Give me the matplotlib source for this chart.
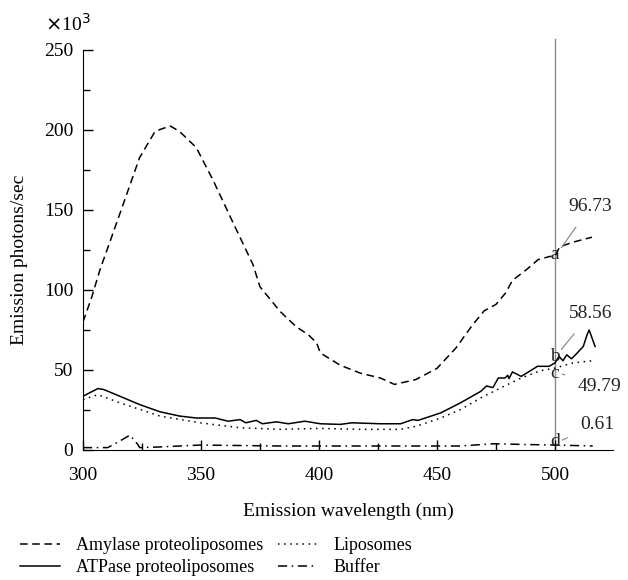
import matplotlib
matplotlib.use("Agg")
import matplotlib.pyplot as plt
from matplotlib.ticker import MultipleLocator

plt.rcParams['font.family'] = ['Liberation Serif', 'DejaVu Serif']

# Amylase proteoliposomes (dashed), x10^3 photons/sec
amy_x = [300, 303.7, 307, 315.7, 324, 330.5, 333, 337, 341, 348, 355, 363.6, 372, 375,
         383.6, 390.4, 395.5, 399, 400.6, 409, 417.6, 426, 432, 441, 450, 458, 465,
         470, 475, 479, 482, 487.9, 492.9, 497.9, 500, 502, 507.9, 515.7]
amy_y = [80, 95.5, 111.8, 148, 182.8, 199, 200.5, 202.5, 199, 189, 169, 142, 116, 102,
         86.5, 77, 72, 67, 60.6, 53, 48, 45, 41, 44, 51, 63.7, 78,
         87, 91, 98, 106, 112.7, 119, 121, 121, 127, 130, 133]

# ATPase proteoliposomes (solid)
atp_x = [300, 306.3, 308.8, 315.6, 324, 332.6, 341, 348, 356, 361.5, 366.6, 369, 373.4,
         376, 382, 387, 394, 400.6, 409, 414, 426, 434.6, 439.7, 442, 451.6, 460, 468.6,
         471, 473.7, 476, 478.8, 480, 480.5, 482, 485.7, 489, 492.6, 497.5, 500, 501.7,
         503.4, 505, 507, 509.4, 512, 513.6, 514.5, 517]
atp_y = [33.6, 38.4, 37.8, 33.6, 28.4, 23.9, 21.2, 20, 20, 18, 19, 17, 18.5,
         16.4, 17.6, 16.4, 18, 16.4, 16, 17, 16.4, 16.4, 19, 18.5, 23.2, 29.5, 36.7,
         40, 39, 45, 45, 46.7, 44.6, 48.8, 46, 49, 52.3, 52.3, 54.4, 58.5,
         55.8, 59.5, 57, 60.6, 64.7, 72, 75, 64.7]

# Liposomes (dotted)
lip_x = [300, 306.3, 315.6, 332.6, 349.6, 366.6, 383.6, 400.6, 417.6, 434.6, 441.4,
         451.6, 460, 468.6, 477, 485.7, 494, 500, 507.6, 516]
lip_y = [31.5, 34.6, 29.5, 21.2, 17, 13.9, 12.9, 13.5, 12.9, 12.9, 14.9,
         20, 25.3, 32.6, 38.8, 45, 49.6, 51.2, 54.4, 55.8]

# Buffer (dash-dot)
buf_x = [300, 310.5, 315.6, 319.9, 323.2, 324, 332.6, 349.6, 383.6, 434.6, 460,
         473.7, 485.7, 500, 516]
buf_y = [1.5, 1.5, 5.6, 9.3, 3.5, 1.5, 1.9, 3.1, 2.5, 2.5, 2.5,
         3.9, 3.5, 3.1, 2.5]

# readout at 500 nm
mark_letters = ['a', 'b', 'c', 'd']
mark_y = [122, 58.5, 48, 5.5]
mark_values = ['96.73', '58.56', '49.79', '0.61']
value_pos = [(515, 152), (515, 85), (519, 39.5), (518, 16)]

fig = plt.figure(figsize=(6.28, 5.80), dpi=100)
ax = fig.add_axes([83 / 628, 1 - 450 / 580, 530 / 628, 400 / 580])

ax.plot(amy_x, amy_y, color='black', lw=1.1, linestyle=(0, (5, 3)),
        label='Amylase proteoliposomes')
ax.plot(atp_x, atp_y, color='black', lw=1.1, label='ATPase proteoliposomes')
ax.plot(lip_x, lip_y, color='black', lw=1.1, linestyle=(0, (1, 3)), label='Liposomes')
ax.plot(buf_x, buf_y, color='black', lw=1.1, linestyle=(0, (6, 3, 1, 3)), label='Buffer')

ax.plot([500, 500], [0, 257], color='#8c8c8c', lw=1, clip_on=False, zorder=1)

for letter, yv, val, (tx, ty) in zip(mark_letters, mark_y, mark_values, value_pos):
    ax.text(500, yv, letter, ha='center', va='center', fontsize=14, color='#222222')
    ax.annotate(val, xy=(502, yv + (3 if letter in 'ab' else 0)), xytext=(tx, ty),
                ha='center', va='center', fontsize=14, color='#222222',
                arrowprops=dict(arrowstyle='-', color='#8c8c8c', lw=0.9,
                                shrinkA=8, shrinkB=2),
                annotation_clip=False)

ax.set_xlim(300, 524.6)
ax.set_ylim(0, 250)
ax.spines['top'].set_visible(False)
ax.spines['right'].set_visible(False)
ax.xaxis.set_major_locator(MultipleLocator(50))
ax.xaxis.set_minor_locator(MultipleLocator(25))
ax.yaxis.set_major_locator(MultipleLocator(50))
ax.yaxis.set_minor_locator(MultipleLocator(25))
ax.tick_params(which='both', direction='in', labelsize=14, colors='black')
ax.tick_params(which='major', length=7, width=1)
ax.tick_params(which='minor', length=5, width=1)
ax.tick_params(axis='y', pad=7)
ax.tick_params(axis='x', pad=12)

ax.set_xlabel('Emission wavelength (nm)', fontsize=14, labelpad=14)
ax.set_ylabel('Emission photons/sec', fontsize=14)
ax.yaxis.set_label_coords(-0.104, 0.475)
fig.text(45 / 628, 1 - 24 / 580, r'$\times$10$^3$', fontsize=14, va='center', ha='left')

handles, labels = ax.get_legend_handles_labels()
fig.legend(handles, labels, loc='upper left', bbox_to_anchor=(20 / 628, 1 - 537 / 580),
           ncol=2, frameon=False, borderpad=0, borderaxespad=0,
           fontsize=13, handlelength=2.2, columnspacing=0.8, labelspacing=0.3,
           handletextpad=0.9)

fig.savefig('out.png', dpi=100)
